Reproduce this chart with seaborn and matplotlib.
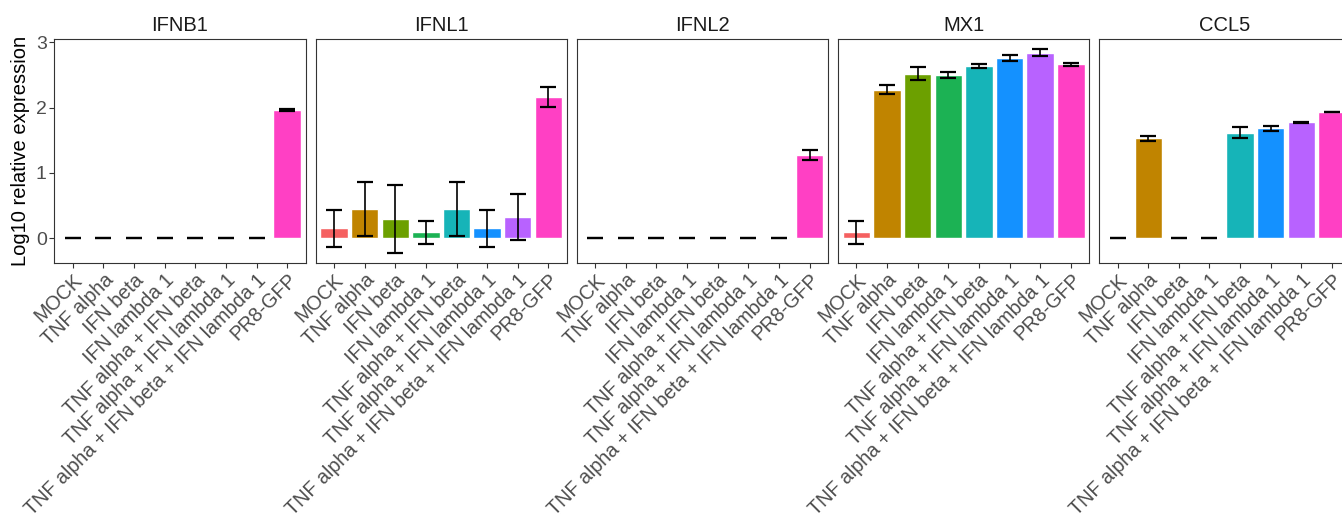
import pandas as pd
import matplotlib.pyplot as plt
import seaborn as sns

sns.set_theme(style="white")
plt.rcParams["font.family"] = ["Liberation Sans", "DejaVu Sans"]

# Datos
categories = ["MOCK", "TNF alpha", "IFN beta", "IFN lambda 1",
              "TNF alpha + IFN beta", "TNF alpha + IFN lambda 1",
              "TNF alpha + IFN beta + IFN lambda 1", "PR8-GFP"]
genes = ["IFNB1", "IFNL1", "IFNL2", "MX1", "CCL5"]

ifnb1_mean = [0, 0, 0, 0, 0, 0, 0, 1.96]
ifnb1_err = [0, 0, 0, 0, 0, 0, 0, 0.02]
ifnl1_mean = [0.15, 0.45, 0.30, 0.09, 0.45, 0.15, 0.33, 2.16]
ifnl1_err = [0.28, 0.41, 0.52, 0.18, 0.41, 0.28, 0.35, 0.15]
ifnl2_mean = [0, 0, 0, 0, 0, 0, 0, 1.27]
ifnl2_err = [0, 0, 0, 0, 0, 0, 0, 0.08]
mx1_mean = [0.09, 2.27, 2.52, 2.50, 2.64, 2.76, 2.84, 2.66]
mx1_err = [0.18, 0.07, 0.10, 0.045, 0.03, 0.04, 0.05, 0.025]
ccl5_mean = [0, 1.53, 0, 0, 1.615, 1.68, 1.775, 1.93]
ccl5_err = [0, 0.035, 0, 0, 0.08, 0.045, 0.01, 0.005]

colors = ["#F56060", "#C08400", "#6CA000", "#1CB254", "#16B4B8",
          "#1491FF", "#B862FF", "#FF40C4"]

means = [ifnb1_mean, ifnl1_mean, ifnl2_mean, mx1_mean, ccl5_mean]
errs = [ifnb1_err, ifnl1_err, ifnl2_err, mx1_err, ccl5_err]

rows = []
for g, m, e in zip(genes, means, errs):
    for c, v, s in zip(categories, m, e):
        rows.append({"gene": g, "treatment": c, "value": v, "err": s})
df = pd.DataFrame(rows)

W, H = 1342, 515
fig = plt.figure(figsize=(W / 100, H / 100), dpi=100)
palette = dict(zip(categories, colors))

for i, g in enumerate(genes):
    left = (54.5 + i * 261.2) / W
    ax = fig.add_axes([left, 1 - 262.7 / H, 251 / W, 223.4 / H])
    sub = df[df["gene"] == g]
    sns.barplot(data=sub, x="treatment", y="value", hue="treatment",
                order=categories, hue_order=categories, palette=palette,
                width=0.9, legend=False, ax=ax, saturation=1, errorbar=None)
    ax.errorbar(range(len(categories)), sub["value"], yerr=sub["err"],
                fmt="none", ecolor="black", elinewidth=1.2, capsize=5.6,
                capthick=1.6)
    ax.set_xlim(-0.6, 7.6)
    ax.set_ylim(-0.375, 3.045)
    ax.set_yticks([0, 1, 2, 3])
    ax.set_title(g, fontsize=14.5, color="#1A1A1A", pad=6)
    ax.set_xlabel("")
    ax.set_xticks(range(len(categories)))
    ax.set_xticklabels(categories, rotation=45, ha="right",
                       rotation_mode="anchor", fontsize=14.2, color="#4D4D4D")
    ax.tick_params(axis="both", length=3.5, width=0.8, color="#333333",
                   bottom=True, left=True, pad=2)
    for sp in ax.spines.values():
        sp.set_color("#333333")
        sp.set_linewidth(0.8)
    if i == 0:
        ax.set_ylabel("Log10 relative expression", fontsize=14.5,
                      color="black", labelpad=4)
        ax.tick_params(axis="y", labelsize=14, labelcolor="#4D4D4D")
    else:
        ax.set_ylabel("")
        ax.tick_params(axis="y", labelleft=False, left=False)

fig.savefig("out.png", dpi=100)
